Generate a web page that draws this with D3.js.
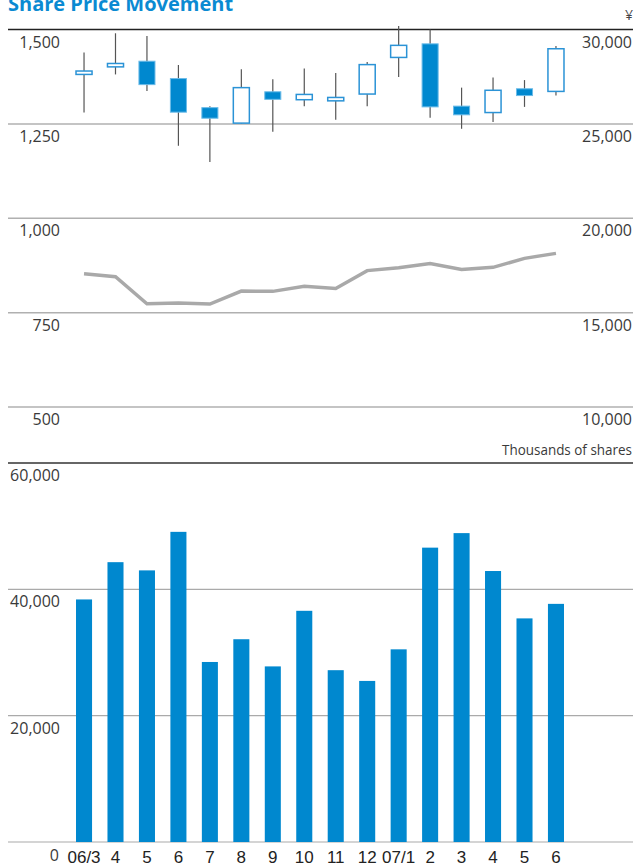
<!DOCTYPE html>
<html>
<head>
<meta charset="utf-8">
<script src="https://cdn.jsdelivr.net/npm/d3@7"></script>
<style>
  body { margin: 0; background: #fff; }
  svg { display: block; font-family: "Open Sans", "Noto Sans", sans-serif; }
</style>
</head>
<body>
<svg id="chart" width="634" height="867"></svg>
<script>
// month labels
var months = ["06/3","4","5","6","7","8","9","10","11","12","07/1","2","3","4","5","6"];

// share price, yen (open / high / low / close)
var open  = [1381,1401,1416,1370,1293,1252,1335,1314,1311,1329,1426,1462,1297,1280,1343,1336];
var high  = [1439,1490,1483,1406,1297,1395,1368,1397,1385,1414,1509,1500,1346,1373,1366,1456];
var low   = [1280,1381,1337,1192,1149,1251,1229,1297,1261,1297,1374,1266,1237,1255,1295,1325];
var close = [1390,1410,1354,1281,1265,1346,1315,1328,1320,1407,1458,1295,1274,1339,1325,1449];

// nikkei average, month end
var nikkei = [17059,16906,15467,15505,15456,16140,16127,16399,16274,17225,17383,17604,17287,17400,17875,18138];

// trading volume, thousands of shares
var volume = [38400,44300,43000,49100,28500,32100,27800,36600,27200,25500,30500,46600,48900,42900,35400,37700];

var priceTicks  = [1500,1250,1000,750,500];
var nikkeiTicks = [30000,25000,20000,15000,10000];
var volTicks    = [60000,40000,20000];

var svg = d3.select("#chart");
var fmt = d3.format(",");
var left = 8, right = 633;

var idx = d3.range(months.length);
var x = d3.scaleBand().domain(idx).range([68.3, 571.7]).paddingInner(0.49).paddingOuter(0.245);
var cx = function(i){ return x(i) + x.bandwidth()/2; };

var yP = d3.scaleLinear().domain([500,1500]).range([407,29.5]);
var yN = d3.scaleLinear().domain([10000,30000]).range([407,29.5]);
var yV = d3.scaleLinear().domain([0,60000]).range([842,463]);

// title
svg.append("text").attr("x",8).attr("y",11)
   .attr("font-size",20).attr("font-weight","bold").attr("fill","#0a8ad2")
   .text("Share Price Movement");
svg.append("text").attr("x",633).attr("y",20).attr("text-anchor","end")
   .attr("font-size",14).attr("fill","#444").text("¥");

// price grid
svg.selectAll(".pgrid").data(priceTicks).enter().append("line")
   .attr("x1",left).attr("x2",right)
   .attr("y1",function(d){return yP(d);}).attr("y2",function(d){return yP(d);})
   .attr("stroke",function(d,i){return i==0 ? "#222" : "#b0b0b0";})
   .attr("stroke-width",function(d,i){return i==0 ? 1.3 : 1.5;});

svg.selectAll(".plab").data(priceTicks).enter().append("text")
   .attr("x",60).attr("y",function(d){return yP(d)+18;})
   .attr("text-anchor","end").attr("font-size",16).attr("fill","#3a3a3a")
   .text(function(d){return fmt(d);});

svg.selectAll(".nlab").data(nikkeiTicks).enter().append("text")
   .attr("x",632).attr("y",function(d){return yN(d)+18;})
   .attr("text-anchor","end").attr("font-size",16).attr("fill","#3a3a3a")
   .text(function(d){return fmt(d);});

// nikkei line
var line = d3.line().x(function(d,i){return cx(i);}).y(function(d){return yN(d);});
svg.append("path").datum(nikkei).attr("d",line)
   .attr("fill","none").attr("stroke","#a9a9a9").attr("stroke-width",3.5);

// candles
var candle = svg.selectAll(".candle").data(idx).enter().append("g");
candle.append("line")
   .attr("x1",cx).attr("x2",cx)
   .attr("y1",function(i){return yP(high[i]);}).attr("y2",function(i){return yP(low[i]);})
   .attr("stroke","#555").attr("stroke-width",1.2);
candle.append("rect")
   .attr("x",function(i){return x(i);}).attr("width",x.bandwidth())
   .attr("y",function(i){return yP(Math.max(open[i],close[i]));})
   .attr("height",function(i){return Math.max(1, yP(Math.min(open[i],close[i])) - yP(Math.max(open[i],close[i])));})
   .attr("fill",function(i){return close[i] < open[i] ? "#0088cf" : "#fff";})
   .attr("stroke",function(i){return close[i] < open[i] ? "#6bbbe8" : "#2b93d6";})
   .attr("stroke-width",function(i){return close[i] < open[i] ? 1 : 1.5;});

// volume section
svg.append("text").attr("x",632).attr("y",455).attr("text-anchor","end")
   .attr("font-size",15).attr("fill","#3a3a3a")
   .attr("textLength",130).attr("lengthAdjust","spacingAndGlyphs")
   .text("Thousands of shares");

svg.selectAll(".vgrid").data(volTicks.concat([0])).enter().append("line")
   .attr("x1",left).attr("x2",right)
   .attr("y1",function(d){return yV(d);}).attr("y2",function(d){return yV(d);})
   .attr("stroke",function(d,i){return i==0 ? "#333" : "#aaa";})
   .attr("stroke-width",function(d,i){return i==0 ? 1.3 : 1.2;});

svg.selectAll(".vlab").data(volTicks).enter().append("text")
   .attr("x",60).attr("y",function(d){return yV(d)+18;})
   .attr("text-anchor","end").attr("font-size",16).attr("fill","#3a3a3a")
   .text(function(d){return fmt(d);});

svg.selectAll(".bar").data(volume).enter().append("rect")
   .attr("x",function(d,i){return x(i);}).attr("width",x.bandwidth())
   .attr("y",function(d){return yV(d);})
   .attr("height",function(d){return yV(0)-yV(d);})
   .attr("fill","#0088cf");

// x axis labels
svg.append("text").attr("x",59).attr("y",861).attr("text-anchor","end")
   .attr("font-size",16).attr("fill","#3a3a3a").text("0");

var xAxis = d3.axisBottom(x).tickSize(0).tickPadding(0)
   .tickFormat(function(i){return months[i];});
var gx = svg.append("g").attr("transform","translate(0,848)").call(xAxis);
gx.select(".domain").remove();
gx.selectAll("text")
   .attr("dy","0.9em")
   .attr("font-family","'Liberation Sans Narrow', 'Arial Narrow', sans-serif")
   .attr("font-size",17).attr("fill","#222");
</script>
</body>
</html>
